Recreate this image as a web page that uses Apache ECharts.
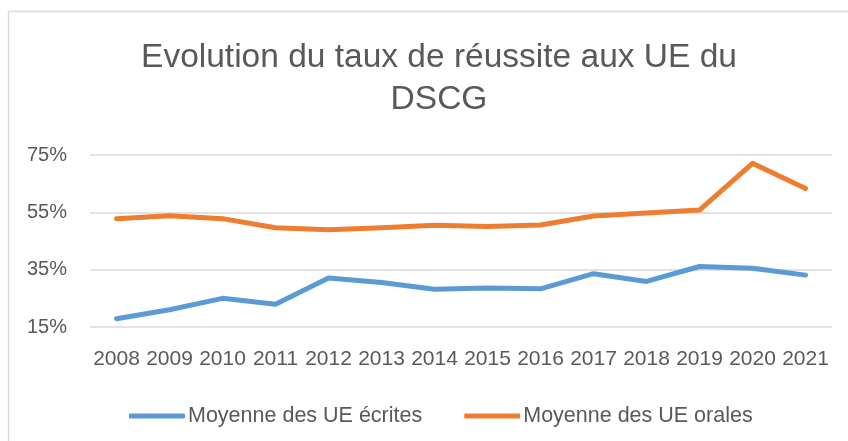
<!DOCTYPE html>
<html>
<head>
<meta charset="utf-8">
<script src="https://cdn.jsdelivr.net/npm/echarts@6/dist/echarts.min.js"></script>
<style>
    html, body { margin: 0; padding: 0; background: #fff; }
    #chart { width: 848px; height: 441px; }
</style>
</head>
<body>
<div id="chart"></div>
<script>
// data
var years = ['2008', '2009', '2010', '2011', '2012', '2013', '2014', '2015', '2016', '2017', '2018', '2019', '2020', '2021'];
var ecrites = [17.9, 21.0, 25.0, 22.9, 32.1, 30.5, 28.2, 28.6, 28.3, 33.6, 30.9, 36.1, 35.5, 33.1];
var orales = [52.8, 53.8, 52.8, 49.6, 48.9, 49.6, 50.5, 50.1, 50.6, 53.7, 54.8, 55.8, 72.1, 63.3];
var yTicks = [15, 35, 55, 75];

var textColor = '#595959';
var font = 'Liberation Sans';

var chart = echarts.init(document.getElementById('chart'));

// gridlines at the tick values, drawn through the y axis scale
var gridLines = yTicks.map(function (v) {
    return { yAxis: v };
});

var option = {
    backgroundColor: '#fff',
    animation: false,
    graphic: [{
        type: 'rect',
        shape: { x: 8.5, y: 11.5, width: 900, height: 500 },
        style: { fill: 'none', stroke: '#d9d9d9', lineWidth: 1.5 },
        silent: true
    }],
    title: {
        text: 'Evolution du taux de réussite aux UE du\nDSCG',
        left: 434,
        top: 32,
        textAlign: 'center',
        textStyle: {
            fontFamily: font,
            fontSize: 33.5,
            fontWeight: 'normal',
            color: textColor,
            lineHeight: 42
        }
    },
    legend: {
        left: 124,
        top: 400,
        icon: 'roundRect',
        itemWidth: 56,
        itemHeight: 5,
        itemGap: 42,
        textStyle: {
            fontFamily: font,
            fontSize: 21.5,
            color: textColor,
            padding: [0, 0, 0, -2]
        },
        data: ['Moyenne des UE écrites', 'Moyenne des UE orales']
    },
    grid: {
        left: 90,
        right: 16,
        top: 155,
        bottom: 114,
        containLabel: false
    },
    xAxis: {
        type: 'category',
        data: years,
        boundaryGap: true,
        axisLine: { show: false },
        axisTick: { show: false },
        axisLabel: {
            fontFamily: font,
            fontSize: 21,
            color: textColor,
            margin: 22,
            interval: 0
        }
    },
    yAxis: {
        type: 'value',
        min: 15,
        max: 75,
        splitLine: { show: false },
        axisLine: { show: false },
        axisTick: { show: false },
        axisLabel: {
            customValues: yTicks,
            fontFamily: font,
            fontSize: 20,
            color: textColor,
            margin: 23,
            formatter: '{value}%'
        }
    },
    series: [
        {
            name: 'Moyenne des UE écrites',
            type: 'line',
            data: ecrites,
            symbol: 'none',
            z: 3,
            lineStyle: { color: '#5B9BD5', width: 5, cap: 'round', join: 'round' },
            itemStyle: { color: '#5B9BD5' },
            markLine: {
                silent: true,
                symbol: 'none',
                z: 1,
                label: { show: false },
                lineStyle: { color: '#d9d9d9', width: 1.5, type: 'solid' },
                data: gridLines
            }
        },
        {
            name: 'Moyenne des UE orales',
            type: 'line',
            data: orales,
            symbol: 'none',
            z: 3,
            lineStyle: { color: '#ED7D31', width: 5, cap: 'round', join: 'round' },
            itemStyle: { color: '#ED7D31' }
        }
    ]
};

chart.setOption(option);
</script>
</body>
</html>
